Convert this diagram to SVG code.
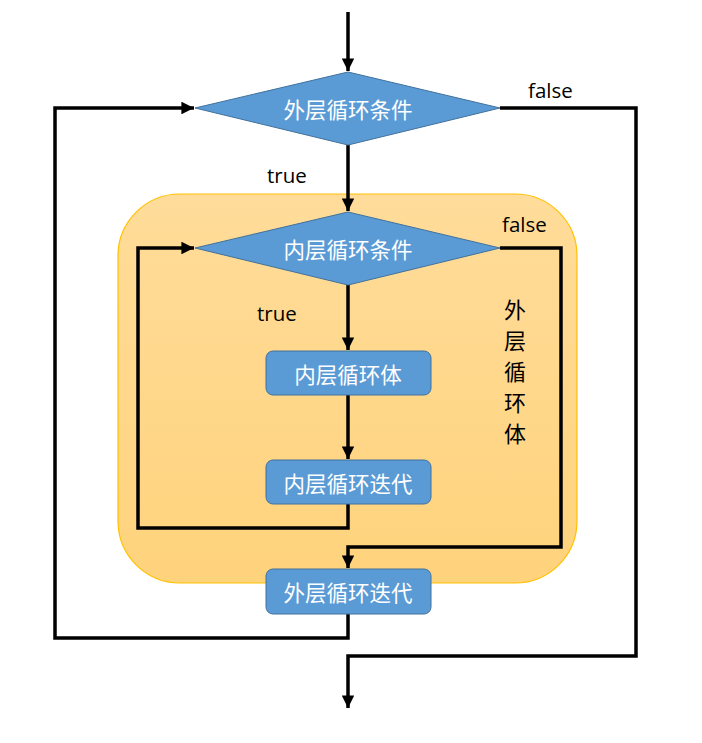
<svg xmlns="http://www.w3.org/2000/svg" width="702" height="743" viewBox="0 0 702 743">
<style>
.node{fill:#5B9BD5;stroke:#41719C;stroke-width:1}
.lbl{font-family:"Noto Sans CJK SC","Noto Sans",sans-serif;font-size:21.5px;fill:#FFFFFF;text-anchor:middle;dominant-baseline:central}
.edge{fill:none;stroke:#000;stroke-width:3.5}
.t{font-family:"Open Sans","Noto Sans","Liberation Sans",sans-serif;font-size:20.5px;fill:#000}
.v{font-family:"Noto Sans CJK SC",sans-serif;font-size:22px;fill:#000;text-anchor:middle}
</style>
<defs>
<linearGradient id="g" x1="0" y1="0" x2="0" y2="1">
<stop offset="0" stop-color="#FFDC9A"/>
<stop offset="1" stop-color="#FFD37C"/>
</linearGradient>
<marker id="a" viewBox="0 0 10 10" refX="10" refY="5" markerWidth="3.6" markerHeight="3.6" orient="auto" markerUnits="strokeWidth">
<path d="M0,0 L10,5 L0,10 z" fill="#000"/>
</marker>
</defs>
<g id="outer-body">
<rect x="118" y="194" width="459" height="389" rx="62" fill="url(#g)" stroke="#FFC000" stroke-width="1.2"/>
<text class="v" x="515" y="318">外</text>
<text class="v" x="515" y="349">层</text>
<text class="v" x="515" y="380">循</text>
<text class="v" x="515" y="411">环</text>
<text class="v" x="515" y="442">体</text>
</g>
<g id="connectors">
<path class="edge" d="M348,12 V71" marker-end="url(#a)"/>
<path class="edge" d="M348,145 V211" marker-end="url(#a)"/>
<path class="edge" d="M348,285 V350" marker-end="url(#a)"/>
<path class="edge" d="M348,395 V459" marker-end="url(#a)"/>
<path class="edge" d="M348,504 V528 H138 V248 H194" marker-end="url(#a)"/>
<path class="edge" d="M500,248 H561 V547 H348 V568" marker-end="url(#a)"/>
<path class="edge" d="M348,614 V638 H55 V108 H194" marker-end="url(#a)"/>
<path class="edge" d="M500,108 H636 V656 H348 V708" marker-end="url(#a)"/>
<text class="t" x="528" y="98">false</text>
<text class="t" x="267" y="183">true</text>
<text class="t" x="502" y="232">false</text>
<text class="t" x="257" y="321">true</text>
</g>
<g id="outer-cond">
<polygon class="node" points="348,72 500,108 348,145 195,108"/>
<text class="lbl" x="348" y="108">外层循环条件</text>
</g>
<g id="inner-cond">
<polygon class="node" points="348,212 500,248 348,285 195,248"/>
<text class="lbl" x="348" y="248">内层循环条件</text>
</g>
<g id="inner-body">
<rect class="node" x="266" y="351" width="165" height="44" rx="7"/>
<text class="lbl" x="348" y="373">内层循环体</text>
</g>
<g id="inner-iter">
<rect class="node" x="266" y="460" width="165" height="44" rx="7"/>
<text class="lbl" x="348" y="482">内层循环迭代</text>
</g>
<g id="outer-iter">
<rect class="node" x="266" y="569" width="165" height="45" rx="7"/>
<text class="lbl" x="348" y="591">外层循环迭代</text>
</g>
</svg>
